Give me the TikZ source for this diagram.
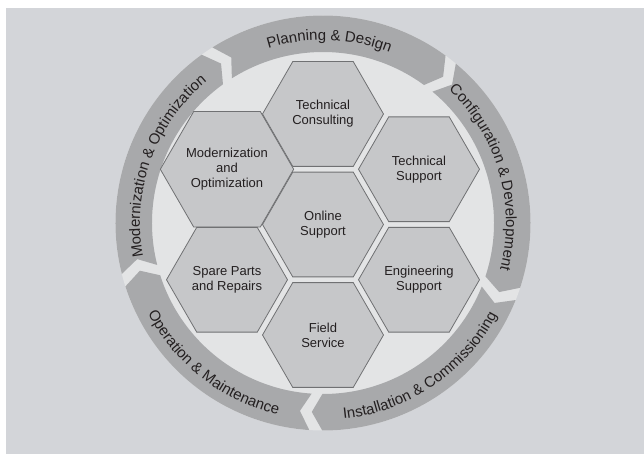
\documentclass[tikz,border=0pt]{standalone}
\usepackage{fontspec}
\setmainfont{Liberation Sans}
\usetikzlibrary{shapes.geometric,decorations.text}
\definecolor{bgc}{HTML}{D3D5D9}
\definecolor{discc}{HTML}{E3E4E5}
\definecolor{ringc}{HTML}{A8A9AB}
\definecolor{hexc}{HTML}{C6C7C9}
\definecolor{hexline}{HTML}{707173}
\definecolor{txt}{HTML}{231F20}
\newcommand\ringfont{\fontsize{15}{18}\selectfont}
\begin{document}
\begin{tikzpicture}[x=1pt,y=1pt,
  hexnode/.style={regular polygon, regular polygon sides=6, minimum size=121pt,
    inner sep=0pt, fill=hexc, draw=hexline, line width=0.8pt, align=center,
    font=\fontsize{13}{15}\selectfont, text=txt},
  ringtext/.style={decorate, decoration={text along path, text align=center,
    text color=txt, text={|\ringfont|#1}}}
]
\useasboundingbox (-323,-231) rectangle (321,223);
\fill[bgc] (-317,-231) rectangle (321,215);
\fill[discc] (0,0) circle (207.5);
\def\ro{207.5}\def\ri{171}\def\rmid{189.25}\def\dl{1.8}\def\pp{3.2}
\foreach \a/\b in {124/52, 52/-20, -20/-92, -92/-164, -164/-236}{
  \fill[ringc] ({\a-\dl}:\ro) arc[start angle=\a-\dl, end angle=\b+\dl, radius=\ro]
    -- ({\b+\dl-\pp}:\rmid) -- ({\b+\dl}:\ri)
    arc[start angle=\b+\dl, end angle=\a-\dl, radius=\ri]
    -- ({\a-\dl-\pp}:\rmid) -- cycle;
}
% ring texts
\path[ringtext={Planning {\&} Design}] (128:183) arc[start angle=128, end angle=48, radius=183];
\path[ringtext={Configuration {\&} Development}] (60:183) arc[start angle=60, end angle=-28, radius=183];
\path[ringtext={Modernization {\&} Optimization}] (204:183) arc[start angle=204, end angle=116, radius=183];
\path[ringtext={Installation {\&} Commissioning}] (-100:197) arc[start angle=-100, end angle=-12, radius=197];
\path[ringtext={Operation {\&} Maintenance}] (-172:197) arc[start angle=-172, end angle=-84, radius=197];
% hexagons
\node[hexnode] (online) at (0,-1.5) {Online\\Support};
\node[hexnode] (consult) at (0,109) {Technical\\Consulting};
\node[hexnode] (field) at (0,-112) {Field\\Service};
\node[hexnode] (tsupport) at (96,53.75) {Technical\\Support};
\node[hexnode] (esupport) at (96,-56.75) {Engineering\\Support};
\node[hexnode] (modern) at (-96,53.75) {Modernization\\and\\Optimization};
\node[hexnode] (spare) at (-96,-56.75) {Spare Parts\\and Repairs};
\end{tikzpicture}
\end{document}
